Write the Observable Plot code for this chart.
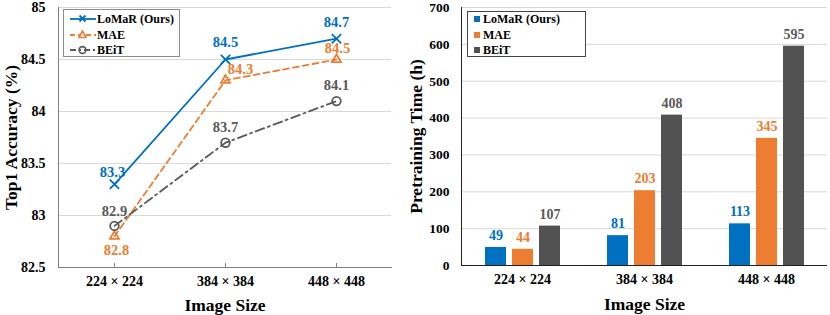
<!DOCTYPE html>
<html><head><meta charset="utf-8">
<script src="https://cdn.jsdelivr.net/npm/d3@7"></script>
<script src="https://cdn.jsdelivr.net/npm/@observablehq/plot@0.6"></script>
<style>
body{margin:0;background:#fff;}
#wrap{position:relative;width:830px;height:315px;display:flex;font-family:"Liberation Serif",serif;}
.legend{position:absolute;background:#fff;font:bold 12px "Liberation Serif",serif;color:#000;box-sizing:border-box;}
.row{position:absolute;left:0;height:14px;line-height:14px;white-space:nowrap;}
.row svg{position:absolute;top:0;}
.row span{position:absolute;top:0;}
</style></head><body>
<div id="wrap"><div id="left"></div><div id="right"></div>
<div class="legend" id="legL"></div><div class="legend" id="legR"></div></div>
<script>
// ---- data ----
const sizes = ["224 × 224", "384 × 384", "448 × 448"];
const models = ["LoMaR (Ours)", "MAE", "BEiT"];
const accLoMaR = [83.3, 84.5, 84.7];
const accMAE = [82.8, 84.3, 84.5];
const accBEiT = [82.9, 83.7, 84.1];
const timeLoMaR = [49, 81, 113];
const timeMAE = [44, 203, 345];
const timeBEiT = [107, 408, 595];
const accTicks = [82.5, 83, 83.5, 84, 84.5, 85];
const timeTicks = [0, 100, 200, 300, 400, 500, 600, 700];

// ---- styles ----
const colors = ["#0070C0", "#ED7D31", "#595959"];
const barColors = ["#0070C0", "#ED7D31", "#525252"];
const symbols = ["times", "triangle2", "circle"];
const dashes = [null, "6,4", "9,4,2,4"];
// label offsets [dx, dy] per series per point
const labelOffsets = [
  [[-2, -12], [0, -17], [0, -16]],
  [[2, 14], [15, -11], [1, -11]],
  [[0, -15], [0, -15], [0, -16]]
];
const font = "Liberation Serif";

const accs = [accLoMaR, accMAE, accBEiT];
const times = [timeLoMaR, timeMAE, timeBEiT];
const accData = models.flatMap((m, i) => sizes.map((s, j) => ({model: m, size: s, value: accs[i][j], s: i, p: j})));
const timeData = sizes.flatMap((s, j) => models.map((m, i) => ({size: s, model: m, value: times[i][j]})));

// ---- left: line chart ----
const leftMarks = [
  Plot.gridY(accTicks, {stroke: "#d9d9d9", strokeOpacity: 1}),
  Plot.frame({anchor: "left", stroke: "#7f7f7f"}),
  Plot.frame({anchor: "bottom", stroke: "#7f7f7f"}),
  Plot.axisY({ticks: accTicks, tickFormat: d => String(d), tickSize: 0, tickPadding: 13, label: null, fontSize: 14}),
  Plot.axisY({ticks: [], label: "Top1 Accuracy (%)", labelArrow: "none", labelAnchor: "center", labelOffset: 54, fontSize: 17.5}),
  Plot.axisX({tickSize: -4, tickPadding: 13, label: null, fontSize: 14, stroke: "#7f7f7f"}),
  Plot.axisX({ticks: [], label: "Image Size", labelArrow: "none", labelAnchor: "center", labelOffset: 43, fontSize: 17.5})
];
models.forEach((m, i) => {
  const d = accData.filter(e => e.s === i);
  leftMarks.push(Plot.line(d, {x: "size", y: "value", stroke: colors[i], strokeWidth: 1.8, strokeDasharray: dashes[i]}));
  leftMarks.push(Plot.dot(d, {x: "size", y: "value", symbol: () => symbols[i], r: 4.3, stroke: colors[i], strokeWidth: 1.8, fill: "none"}));
  d.forEach((e, j) => {
    leftMarks.push(Plot.text([e], {x: "size", y: "value", text: v => v.value.toFixed(1), fill: colors[i], fontSize: 14.5, dx: labelOffsets[i][j][0], dy: labelOffsets[i][j][1]}));
  });
});
const left = Plot.plot({
  width: 405, height: 315,
  marginLeft: 58, marginRight: 14, marginTop: 7, marginBottom: 48,
  style: {fontFamily: font, fontWeight: "bold", color: "#000", background: "transparent", overflow: "visible"},
  x: {type: "point", domain: sizes, padding: 0.5},
  y: {domain: [82.5, 85]},
  symbol: {type: "identity"},
  marks: leftMarks
});
document.getElementById("left").appendChild(left);

// ---- right: grouped bar chart ----
const right = Plot.plot({
  width: 425, height: 315,
  marginLeft: 55, marginRight: 2, marginTop: 7, marginBottom: 50,
  style: {fontFamily: font, fontWeight: "bold", color: "#000", background: "transparent", overflow: "visible"},
  fx: {domain: sizes, padding: 0},
  x: {domain: models, paddingInner: 0.23, paddingOuter: 0.865, axis: null},
  y: {domain: [0, 700]},
  color: {domain: models, range: barColors},
  marks: [
    Plot.gridY(timeTicks, {stroke: "#d9d9d9", strokeOpacity: 1}),
    Plot.barY(timeData, {fx: "size", x: "model", y: "value", fill: "model"}),
    Plot.text(timeData, {fx: "size", x: "model", y: "value", text: d => String(d.value), fill: d => colors[models.indexOf(d.model)], fontSize: 14, dy: -12}),
    Plot.ruleY([0], {stroke: "#222"}),
    Plot.frame({anchor: "left", stroke: "#222", facetAnchor: "left"}),
    Plot.axisY({ticks: timeTicks, tickSize: 0, tickPadding: 12, label: null, fontSize: 13.5}),
    Plot.axisY({ticks: [], label: "Pretraining Time (h)", labelArrow: "none", labelAnchor: "center", labelOffset: 52, fontSize: 17.5}),
    Plot.axisFx({anchor: "bottom", tickSize: 0, tickPadding: 9, label: null, fontSize: 14}),
    Plot.axisFx({anchor: "bottom", ticks: [], label: "Image Size", labelArrow: "none", labelAnchor: "center", labelOffset: 44, fontSize: 17.5})
  ]
});
document.getElementById("right").appendChild(right);

// ---- legends (HTML overlay) ----
function lineSymbol(i) {
  const dash = dashes[i] ? `stroke-dasharray="${dashes[i] === "6,4" ? "5,3" : "6,3,2,3"}"` : "";
  let sym = "";
  if (i === 0) sym = `<path d="M9.5,3.5L15.5,9.5M15.5,3.5L9.5,9.5" stroke="${colors[i]}" stroke-width="1.8"/>`;
  if (i === 1) sym = `<path d="M12.5,3L16,9.5L9,9.5Z" fill="#fff" stroke="${colors[i]}" stroke-width="1.6"/>`;
  if (i === 2) sym = `<circle cx="12.5" cy="7" r="3.4" fill="none" stroke="${colors[i]}" stroke-width="1.6"/>`;
  return `<svg width="26" height="14"><line x1="0" y1="7" x2="26" y2="7" stroke="${colors[i]}" stroke-width="1.8" ${dash}/>${sym}</svg>`;
}
const legL = document.getElementById("legL");
Object.assign(legL.style, {left: "63px", top: "9px", width: "117px", height: "48px", border: "1px solid #8c8c8c"});
legL.innerHTML = models.map((m, i) =>
  `<div class="row" style="top:${2 + i * 15.5}px">${lineSymbol(i).replace("<svg", '<svg style="left:6px"')}<span style="left:33px">${m}</span></div>`).join("");
const legR = document.getElementById("legR");
Object.assign(legR.style, {left: "467px", top: "11px", width: "119px", height: "46px", border: "1px solid #444"});
legR.innerHTML = models.map((m, i) =>
  `<div class="row" style="top:${0 + i * 15.5}px"><svg width="8" height="14" style="left:6px"><rect x="0" y="4" width="6" height="6" fill="${barColors[i]}"/></svg><span style="left:15px">${m}</span></div>`).join("");
</script>
</body></html>
